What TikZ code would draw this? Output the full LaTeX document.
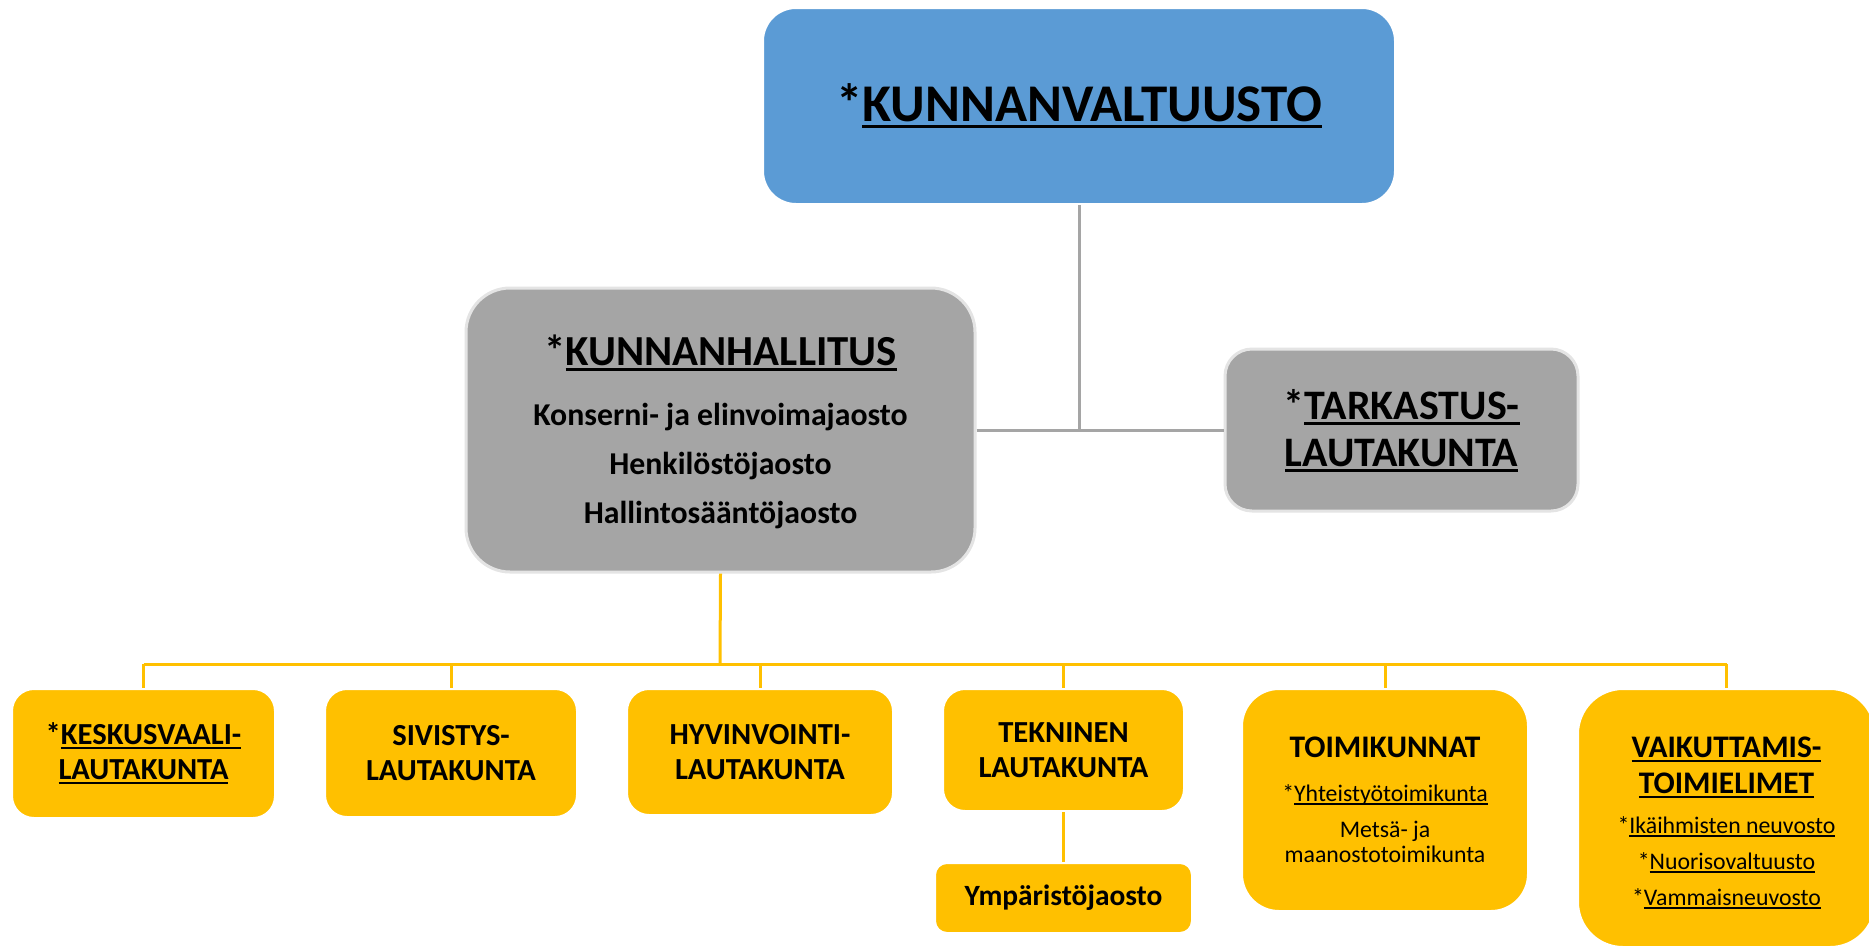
\documentclass[tikz,border=0pt]{standalone}
\usepackage{fontspec}
\setmainfont{Carlito}
\usetikzlibrary{positioning}
\definecolor{kvblue}{HTML}{5B9BD5}
\definecolor{khgrey}{HTML}{A5A5A5}
\definecolor{khedge}{HTML}{E4E4E4}
\definecolor{ltyellow}{HTML}{FFC000}
\newsavebox{\ulinbox}
\newcommand{\ulin}[1]{\sbox{\ulinbox}{#1}\rlap{\rule[-0.13em]{\wd\ulinbox}{0.07em}}\usebox{\ulinbox}}

\begin{document}
\begin{tikzpicture}[x=0.5pt,y=-0.5pt]
    \tikzset{org/.style={align=center, inner sep=0pt, line width=1pt},
      bluebox/.style={org, fill=kvblue, draw=white, rounded corners=16.5pt},
      greybox/.style={org, fill=khgrey, draw=khedge, line width=1.5pt},
      yellowbox/.style={org, fill=ltyellow, draw=white},
      ltk/.style={yellowbox, rounded corners=11pt, font=\fontsize{15.3}{17.5}\selectfont\bfseries},
      greyline/.style={draw=khgrey, line width=1.5pt},
      yellowline/.style={draw=ltyellow, line width=1.5pt}}
\useasboundingbox (0,0) rectangle (1869,949);
\node[bluebox, minimum width=316pt, minimum height=98pt,
  font=\fontsize{26.5}{31}\selectfont\bfseries] (valt) at (1079,106) {*\ulin{KUNNANVALTUUSTO}};
\node[greybox, rounded corners=22pt, minimum width=254.5pt, minimum height=142pt,
  font=\fontsize{15.9}{24.5}\selectfont\bfseries] (hall) at (720.5,430)
  {{\fontsize{21.4}{25}\selectfont\rule{0pt}{17pt}*\ulin{KUNNANHALLITUS}}\\[5.3pt]
   Konserni- ja elinvoimajaosto\\ Henkilöstöjaosto\\ Hallintosääntöjaosto};
\node[greybox, rounded corners=13.5pt, minimum width=176.5pt, minimum height=81pt,
  font=\fontsize{21}{23.5}\selectfont\bfseries] (tark) at (1401.5,430)
  {\rule{0pt}{16pt}*\ulin{TARKASTUS-}\\ \ulin{LAUTAKUNTA}};
% lautakunnat
\node[ltk, minimum width=131.5pt, minimum height=64.5pt] (kesk) at (143.5,753.5)
  {*\ulin{KESKUSVAALI-}\\ \ulin{LAUTAKUNTA}};
\node[ltk, minimum width=126pt, minimum height=64pt] (sivi) at (451,753) {SIVISTYS-\\ LAUTAKUNTA};
\node[ltk, minimum width=133pt, minimum height=63pt] (hyvi) at (760,752) {HYVINVOINTI-\\ LAUTAKUNTA};
\node[ltk, minimum width=120.5pt, minimum height=61pt] (tekn) at (1063.5,750) {TEKNINEN\\ LAUTAKUNTA};
\node[yellowbox, rounded corners=6pt, minimum width=128.5pt, minimum height=35pt, below=25pt of tekn,
  font=\fontsize{14.7}{17}\selectfont\bfseries] (ymp) {Ympäristöjaosto};
\node[yellowbox, rounded corners=18.5pt, minimum width=143pt, minimum height=111pt,
  font=\fontsize{11.9}{12.5}\selectfont] (toim) at (1385,800)
  {{\fontsize{15.7}{17}\selectfont\bfseries TOIMIKUNNAT}\\[9.5pt]
   *\ulin{Yhteistyötoimikunta}\\[5.5pt] Metsä- ja\\ maanostotoimikunta};
\node[yellowbox, rounded corners=22.5pt, minimum width=148.5pt, minimum height=129pt,
  font=\fontsize{11.9}{18}\selectfont] (vaik) at (1726.5,818)
  {{\fontsize{15.7}{17}\selectfont\bfseries\rule{0pt}{15.5pt}\ulin{VAIKUTTAMIS-}}\\
   {\fontsize{15.7}{17}\selectfont\bfseries\ulin{TOIMIELIMET}}\\[2pt]
   *\ulin{Ikäihmisten neuvosto}\\ *\ulin{Nuorisovaltuusto}\\ *\ulin{Vammaisneuvosto}};
% yhteydet
\draw[greyline] (valt.south) -- (valt.south |- hall.east);
\draw[greyline] (hall.east) -- (tark.west);
\coordinate (bus) at (720,664);
\draw[yellowline] (hall.south) -- (bus);
\draw[yellowline] (kesk.north |- bus) -- (vaik.north |- bus);
\foreach \b in {kesk,sivi,hyvi,tekn,toim,vaik}
  \draw[yellowline] (\b.north |- bus) -- (\b.north);
\draw[yellowline] (tekn.south) -- (ymp.north);
\end{tikzpicture}
\end{document}
